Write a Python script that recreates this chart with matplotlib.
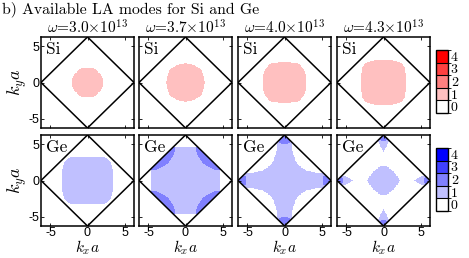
import numpy as np
import matplotlib
matplotlib.use('Agg')
import matplotlib.pyplot as plt
from matplotlib.colors import ListedColormap, BoundaryNorm

plt.rcParams['mathtext.fontset'] = 'cm'
plt.rcParams['axes.unicode_minus'] = False
plt.rcParams['font.family'] = 'Liberation Sans'

# frequencies of the four columns (units of 1e13)
omega = ['3.0', '3.7', '4.0', '4.3']
materials = ['Si', 'Ge']
levels = [0, 1, 2, 3, 4]

pi2 = 2 * np.pi
# regions of available modes: (cx, cy, ax, ay, power, count change)
si_shapes = [
    [(0, 0, 2.1, 2.1, 2.0, 1)],
    [(0, 0, 2.6, 2.6, 2.3, 1)],
    [(0, 0, 2.9, 2.85, 3.0, 1)],
    [(0, 0, 3.1, 3.1, 3.5, 1)],
]
ge_shapes = [
    [(0, 0, 3.45, 3.4, 4.0, 1)],
    [(0, 0, 4.75, 4.7, 6.0, 1),
     (-4.75, 4.75, 3.3, 3.3, 2, 1), (4.75, 4.75, 3.3, 3.3, 2, 1),
     (-4.75, -4.75, 3.3, 3.3, 2, 1), (4.75, -4.75, 3.3, 3.3, 2, 1)],
    [(0, 0, pi2, pi2, 1, 1),
     (-6.1, 6.1, 5.1, 5.1, 3, -1), (6.1, 6.1, 5.1, 5.1, 3, -1),
     (-6.1, -6.1, 5.1, 5.1, 3, -1), (6.1, -6.1, 5.1, 5.1, 3, -1),
     (0, pi2, 1.25, 1.25, 2, 1), (0, -pi2, 1.25, 1.25, 2, 1),
     (pi2, 0, 1.1, 1.1, 2, 1), (-pi2, 0, 1.1, 1.1, 2, 1)],
    [(0, 0, 2.15, 2.1, 1.4, 1),
     (0, pi2, 0.9, 2.3, 1.2, 1), (0, -pi2, 0.9, 2.3, 1.2, 1),
     (pi2, 0, 2.2, 0.9, 1.2, 1), (-pi2, 0, 2.2, 0.9, 1.2, 1),
     (0, pi2, 0.75, 0.75, 2, 1), (0, -pi2, 0.75, 0.75, 2, 1),
     (pi2, 0, 0.75, 0.75, 2, 1), (-pi2, 0, 0.75, 0.75, 2, 1)],
]

reds = ['#ffffff', '#ffc0c0', '#ff8080', '#ff4040', '#ff0000']
blues = ['#ffffff', '#c0c0ff', '#8080ff', '#4040ff', '#0000ff']

k = np.linspace(-pi2, pi2, 110)
KX, KY = np.meshgrid(k, k)
zone = (np.abs(KX) + np.abs(KY)) <= pi2


def count_modes(shapes):
    c = np.zeros_like(KX)
    for cx, cy, ax_, ay_, p, d in shapes:
        inside = (np.abs(KX - cx) / ax_) ** p + (np.abs(KY - cy) / ay_) ** p <= 1
        c += d * inside
    c = np.clip(c, 0, 4)
    return np.where(zone, c, 0)


fig = plt.figure(figsize=(4.69, 2.58), dpi=100)
lefts = [41, 139, 238, 337]
rows = [(128, si_shapes, reds), (226, ge_shapes, blues)]
norm = BoundaryNorm(np.arange(-0.5, 5.5, 1), 5)
serif = 'cmr10'

for r, (bottom, shapes, cols) in enumerate(rows):
    cmap = ListedColormap(cols)
    for c in range(4):
        ax = fig.add_axes([lefts[c] / 469, 1 - bottom / 258, 93 / 469, 91 / 258])
        ax.imshow(count_modes(shapes[c]), extent=[-pi2, pi2, -pi2, pi2],
                  origin='lower', cmap=cmap, norm=norm, interpolation='nearest',
                  aspect='auto')
        ax.plot([pi2, 0, -pi2, 0, pi2], [0, pi2, 0, -pi2, 0], color='black', lw=1.1)
        ax.set_xlim(-pi2, pi2)
        ax.set_ylim(-pi2, pi2)
        ax.set_xticks([-5, 0, 5])
        ax.set_yticks([-5, 0, 5])
        ax.tick_params(direction='in', length=2, width=0.6, top=True, right=True,
                       labelsize=9, pad=1)
        for s in ax.spines.values():
            s.set_linewidth(1.1)
        ax.text(0.05, 0.95, materials[r], transform=ax.transAxes, va='top',
                ha='left', fontsize=12.5, family=serif)
        if c > 0:
            ax.set_yticklabels([])
        else:
            ax.set_ylabel(r'$k_y a$', fontsize=13, labelpad=0)
        if r == 0:
            ax.set_xticklabels([])
            ax.set_title(r'$\omega$=' + omega[c] + r'$\times$10$^{13}$',
                         fontsize=11, family=serif, pad=2)
        else:
            fig.text((lefts[c] + 46.5) / 469, 1 / 258, r'$k_x a$', fontsize=11,
                     ha='center', va='bottom')

    cax = fig.add_axes([436 / 469, 1 - (bottom - 15) / 258, 12 / 469, 63 / 258])
    sm = plt.cm.ScalarMappable(cmap=cmap, norm=norm)
    cb = fig.colorbar(sm, cax=cax, ticks=levels, drawedges=True)
    cb.outline.set_linewidth(1.0)
    cb.dividers.set_linewidth(0.8)
    cb.ax.tick_params(length=0, labelsize=10, pad=2)
    cb.ax.set_yticklabels([str(v) for v in levels], family=serif)

fig.text(0.004, 0.995, 'b) Available LA modes for Si and Ge', va='top', ha='left',
         fontsize=11.3, family=serif)

fig.savefig('out.png', dpi=100)
